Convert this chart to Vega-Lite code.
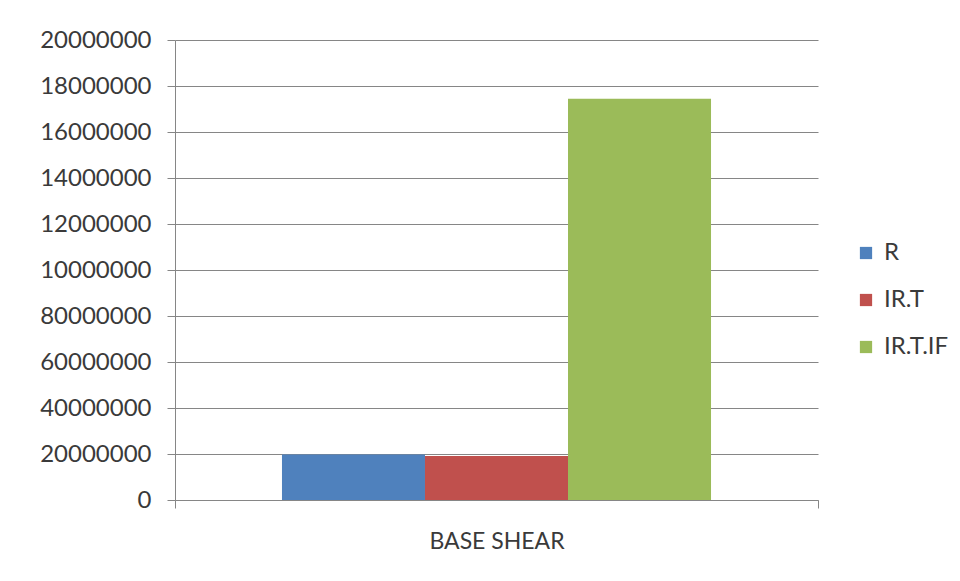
{
  "$schema": "https://vega.github.io/schema/vega-lite/v6.json",
  "autosize": {"type": "none"},
  "width": 643,
  "height": 460,
  "padding": {"left": 175, "top": 40, "right": 142, "bottom": 81},
  "background": "white",
  "config": {
    "view": {"stroke": null},
    "font": "Lato",
    "axis": {"labelFont": "Lato", "labelColor": "#3a3a3a"},
    "legend": {"labelFont": "Lato", "labelColor": "#3a3a3a"}
  },
  "data": {
    "values": [
      {"metric": "BASE SHEAR", "series": "R", "value": 19800000},
      {"metric": "BASE SHEAR", "series": "IR.T", "value": 19100000},
      {"metric": "BASE SHEAR", "series": "IR.T.IF", "value": 174500000}
    ]
  },
  "mark": {"type": "bar"},
  "encoding": {
    "x": {
      "field": "metric",
      "type": "nominal",
      "scale": {"paddingInner": 0, "paddingOuter": 0},
      "axis": {
        "title": null,
        "labelAngle": 0,
        "labelFontSize": 23,
        "labelPadding": 22,
        "domainColor": "#868686",
        "tickColor": "#868686",
        "tickSize": 8,
        "tickBand": "extent"
      }
    },
    "xOffset": {
      "field": "series",
      "type": "nominal",
      "sort": ["R", "IR.T", "IR.T.IF"],
      "scale": {"paddingInner": 0, "paddingOuter": 0.748}
    },
    "y": {
      "field": "value",
      "type": "quantitative",
      "scale": {"domain": [0, 200000000], "nice": false},
      "axis": {
        "title": null,
        "values": [0, 20000000, 40000000, 60000000, 80000000, 100000000, 120000000, 140000000, 160000000, 180000000, 200000000],
        "labelExpr": "substring(toString(datum.value), 0, 8)",
        "labelFontSize": 24,
        "labelPadding": 16,
        "grid": true,
        "gridColor": "#868686",
        "domainColor": "#868686",
        "tickColor": "#868686",
        "tickSize": 8
      }
    },
    "color": {
      "field": "series",
      "type": "nominal",
      "sort": ["R", "IR.T", "IR.T.IF"],
      "scale": {"domain": ["R", "IR.T", "IR.T.IF"], "range": ["#4F81BD", "#C0504D", "#9BBB59"]},
      "legend": {
        "title": null,
        "orient": "none",
        "legendX": 679,
        "legendY": 201,
        "symbolType": "square",
        "symbolSize": 150,
        "symbolStrokeWidth": 0,
        "labelFontSize": 24,
        "labelOffset": 6,
        "rowPadding": 23
      }
    }
  }
}
